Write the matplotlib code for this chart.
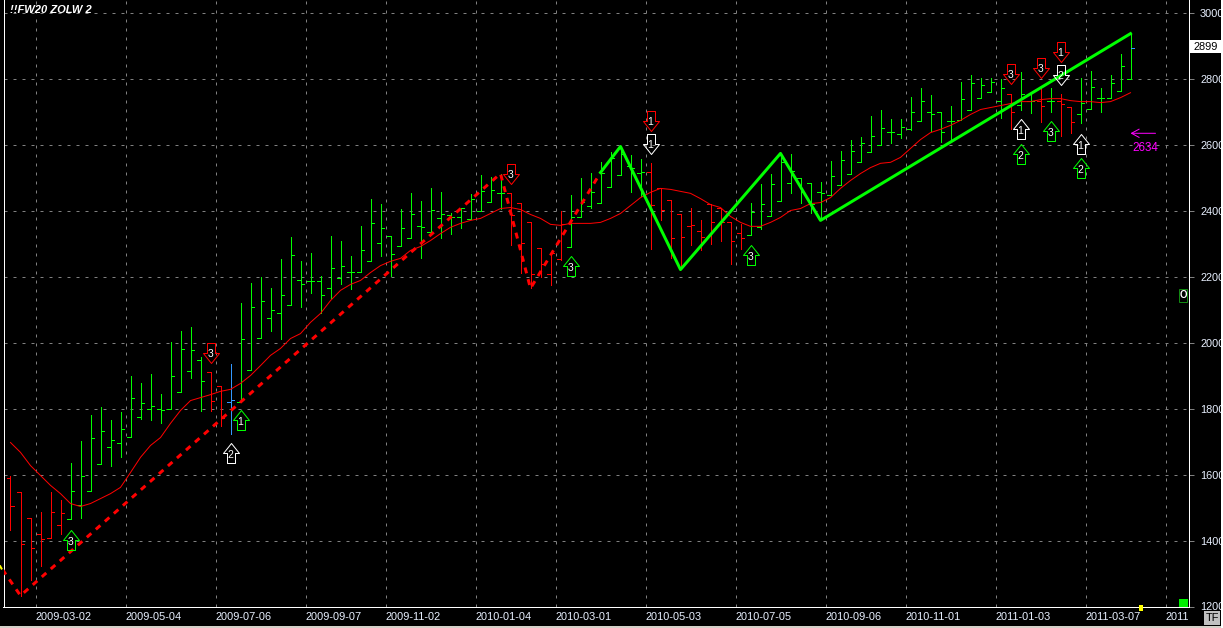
#!/usr/bin/env python3
import matplotlib

matplotlib.use("Agg")
import matplotlib.pyplot as plt
from matplotlib.patches import Rectangle
from matplotlib.path import Path

W, H = 1223, 628

highs = [1594, 1546, 1467, 1485, 1546, 1524, 1636, 1703, 1779, 1806,
         1764, 1788, 1900, 1876, 1906, 1843, 2003, 2036, 2046, 1955,
         1912, 1867, 1936, 2121, 2179, 2197, 2164, 2252, 2321, 2248,
         2270, 2203, 2324, 2309, 2261, 2352, 2436, 2421, 2324, 2406,
         2452, 2430, 2467, 2455, 2391, 2409, 2449, 2509, 2503, 2512,
         2452, 2424, 2364, 2285, 2273, 2400, 2446, 2497, 2515, 2548,
         2576, 2591, 2567, 2555, 2543, 2467, 2433, 2388, 2409, 2370,
         2421, 2409, 2364, 2358, 2424, 2479, 2512, 2573, 2570, 2500,
         2482, 2485, 2549, 2579, 2615, 2624, 2685, 2706, 2676, 2676,
         2745, 2770, 2749, 2697, 2718, 2788, 2812, 2803, 2803, 2800,
         2752, 2821, 2752, 2773, 2770, 2752, 2715, 2803, 2824, 2770,
         2812, 2873, 2936]
lows = [1433, 1233, 1279, 1324, 1409, 1421, 1464, 1467, 1549, 1633,
        1627, 1652, 1715, 1767, 1764, 1755, 1800, 1849, 1891, 1791,
        1791, 1746, 1724, 1821, 1918, 2015, 2036, 2012, 2115, 2109,
        2149, 2088, 2136, 2176, 2161, 2215, 2246, 2261, 2203, 2291,
        2318, 2255, 2330, 2318, 2330, 2346, 2373, 2397, 2427, 2406,
        2294, 2212, 2164, 2197, 2173, 2249, 2288, 2379, 2409, 2424,
        2470, 2509, 2455, 2443, 2282, 2370, 2255, 2224, 2294, 2279,
        2300, 2309, 2239, 2282, 2327, 2343, 2382, 2430, 2452, 2424,
        2391, 2370, 2446, 2476, 2512, 2546, 2576, 2600, 2606, 2621,
        2643, 2670, 2640, 2609, 2609, 2673, 2706, 2742, 2758, 2679,
        2648, 2706, 2694, 2667, 2700, 2627, 2636, 2664, 2709, 2700,
        2742, 2761, 2800]
opens = [1588, 1546, 1467, 1421, 1409, 1448, 1464, 1509, 1549, 1633,
         1682, 1694, 1715, 1773, 1797, 1800, 1800, 1849, 1915, 1946,
         1912, 1867, 1821, 1821, 1918, 2015, 2073, 2088, 2115, 2188,
         2185, 2185, 2164, 2194, 2215, 2215, 2246, 2303, 2324, 2291,
         2318, 2352, 2336, 2376, 2385, 2379, 2373, 2397, 2427, 2452,
         2452, 2424, 2364, 2285, 2209, 2252, 2288, 2379, 2415, 2424,
         2470, 2509, 2536, 2515, 2518, 2467, 2433, 2388, 2352, 2339,
         2421, 2409, 2364, 2333, 2327, 2349, 2382, 2430, 2482, 2497,
         2482, 2455, 2446, 2476, 2512, 2546, 2576, 2600, 2639, 2633,
         2646, 2670, 2700, 2697, 2670, 2673, 2706, 2742, 2758, 2733,
         2752, 2721, 2733, 2733, 2733, 2733, 2715, 2691, 2709, 2742,
         2742, 2761, 2800]
closes = [1506, 1388, 1376, 1406, 1485, 1482, 1549, 1594, 1712, 1733,
          1706, 1739, 1833, 1818, 1809, 1794, 1900, 1979, 1976, 1882,
          1824, 1770, 1827, 2012, 2109, 2127, 2100, 2143, 2264, 2176,
          2185, 2143, 2227, 2233, 2215, 2279, 2361, 2346, 2267, 2346,
          2388, 2349, 2403, 2388, 2379, 2409, 2436, 2458, 2461, 2452,
          2385, 2303, 2209, 2239, 2270, 2358, 2379, 2427, 2455, 2515,
          2558, 2570, 2530, 2518, 2418, 2403, 2318, 2321, 2355, 2321,
          2364, 2364, 2309, 2318, 2394, 2421, 2479, 2548, 2521, 2455,
          2421, 2452, 2506, 2552, 2579, 2606, 2627, 2649, 2639, 2652,
          2700, 2733, 2691, 2639, 2670, 2739, 2785, 2779, 2788, 2770,
          2700, 2752, 2733, 2718, 2733, 2724, 2667, 2727, 2773, 2742,
          2785, 2839, 2893]
red_bars = [0, 1, 2, 3, 4, 5, 20, 21, 50, 51, 52, 53, 54, 55,
            64, 65, 66, 67, 68, 69, 70, 71, 72, 73, 100, 103, 105, 106]
blue_bars = [22]

ma_values = [1697, 1667, 1627, 1597, 1567, 1542, 1512, 1503, 1512, 1527,
             1542, 1561, 1606, 1652, 1688, 1712, 1755, 1794, 1824, 1833,
             1842, 1852, 1858, 1876, 1900, 1930, 1961, 1982, 2012, 2027,
             2061, 2088, 2127, 2158, 2176, 2188, 2212, 2233, 2246, 2255,
             2279, 2291, 2309, 2330, 2349, 2361, 2370, 2376, 2391, 2406,
             2409, 2403, 2388, 2376, 2358, 2355, 2361, 2361, 2361, 2364,
             2376, 2391, 2415, 2439, 2455, 2467, 2464, 2458, 2452, 2436,
             2418, 2409, 2382, 2364, 2352, 2352, 2364, 2379, 2400, 2406,
             2421, 2424, 2439, 2467, 2491, 2512, 2530, 2543, 2546, 2561,
             2588, 2615, 2636, 2646, 2658, 2673, 2691, 2706, 2712, 2718,
             2724, 2730, 2730, 2736, 2739, 2739, 2733, 2730, 2730, 2727,
             2730, 2742, 2757]

red_wave_x = [-0.8, 1, 49, 52, 59]
red_wave_y = [1312, 1233, 2512, 2164, 2515]
green_wave_x = [59, 61, 67, 77, 81, 112]
green_wave_y = [2515, 2594, 2221, 2573, 2370, 2936]

# bar, price at the tip, label, colour
up_arrows = [(6, 1433, "3", "#00ff00"), (23, 1794, "1", "#00ff00"), (22, 1694, "2", "white"),
             (56, 2261, "3", "#00ff00"), (74, 2294, "3", "#00ff00"), (101, 2676, "1", "white"),
             (101, 2603, "2", "#00ff00"), (104, 2670, "3", "#00ff00"), (107, 2633, "1", "white"),
             (107, 2560, "2", "#00ff00")]
down_arrows = [(20, 1939, "3", "#ff0000"), (50, 2479, "3", "#ff0000"), (64, 2640, "1", "#ff0000"),
               (64, 2570, "1", "white"), (100, 2782, "3", "#ff0000"), (103, 2803, "3", "#ff0000"),
               (105, 2851, "1", "#ff0000"), (105, 2779, "2", "white")]

date_ticks = [2.5, 11.5, 20.5, 29.5, 37.5, 46.5, 54.5, 63.5, 72.5, 81.5, 89.5, 98.5, 107.5, 115.5]
date_labels = ["2009-03-02", "2009-05-04", "2009-07-06", "2009-09-07", "2009-11-02",
               "2010-01-04", "2010-03-01", "2010-05-03", "2010-07-05", "2010-09-06",
               "2010-11-01", "2011-01-03", "2011-03-07", "2011"]
price_ticks = [1200, 1400, 1600, 1800, 2000, 2200, 2400, 2600, 2800, 3000]

PX = 0.72  # one pixel in points at dpi 100
LABEL = "#e8f0ff"
GRID = "#808080"

up_path = Path([(0, 0), (-8, -10), (-4, -10), (-4, -20), (4, -20), (4, -10), (8, -10), (0, 0)], closed=True)
down_path = Path([(0, 0), (-8, 10), (-4, 10), (-4, 20), (4, 20), (4, 10), (8, 10), (0, 0)], closed=True)


def fig_box(fig, x0, y0, x1, y1, **kwargs):
    # rectangle given in image pixels, y from the top
    rect = Rectangle((x0 / W, 1 - y1 / H), (x1 - x0) / W, (y1 - y0) / H,
                     transform=fig.transFigure, **kwargs)
    fig.add_artist(rect)


def draw_bars(ax):
    for i in range(len(highs)):
        if i in blue_bars:
            color = "#3399ff"
        elif i in red_bars:
            color = "#ff0000"
        else:
            color = "#00ff00"
        ax.plot([i, i], [lows[i], highs[i]], color=color, linewidth=PX, zorder=3)
        ax.plot([i - 0.35, i], [opens[i], opens[i]], color=color, linewidth=PX, zorder=3)
        ax.plot([i, i + 0.35], [closes[i], closes[i]], color=color, linewidth=PX, zorder=3)
    # last close tick is blue
    last = len(highs) - 1
    ax.plot([last, last + 0.35], [closes[last], closes[last]], color="#3399ff", linewidth=PX, zorder=3)


def draw_arrows(ax):
    for path, arrows, offset in ((up_path, up_arrows, -12), (down_path, down_arrows, 9)):
        for bar, price, label, color in arrows:
            ax.plot([bar], [price], marker=path, markersize=40 * PX, markerfacecolor="none",
                    markeredgecolor=color, markeredgewidth=PX, zorder=6)
            ax.annotate(label, (bar, price), xytext=(0, offset * PX), textcoords="offset points",
                        ha="center", va="center", color="white", fontsize=7.5, zorder=7)


def main():
    plt.rcParams["font.family"] = ["Liberation Sans", "DejaVu Sans"]
    fig = plt.figure(figsize=(W / 100, H / 100), dpi=100, facecolor="black")
    ax = fig.add_axes([3.5 / W, (H - 606.5) / H, 1185 / W, 606.5 / H], facecolor="black")
    ax.set_xlim(-0.7, 117.8)
    ax.set_ylim(1200, 3037.9)

    ax.grid(True, color=GRID, linewidth=PX, linestyle=(0, (3, 6)), zorder=1)
    ax.set_axisbelow(True)
    ax.set_xticks(date_ticks)
    ax.set_xticklabels(date_labels, ha="left")
    ax.set_yticks(price_ticks)
    ax.yaxis.tick_right()
    ax.tick_params(axis="x", length=0, pad=4, labelsize=7.9, labelcolor=LABEL)
    ax.tick_params(axis="y", length=5 * PX, width=PX, color=GRID, pad=4.7, labelsize=7.9, labelcolor=LABEL)
    for label in ax.get_yticklabels():
        label.set_horizontalalignment("left")
    for side, spine in ax.spines.items():
        spine.set_visible(side != "top")
        spine.set_color("white")
        spine.set_linewidth(PX)

    draw_bars(ax)
    ax.plot(range(len(ma_values)), ma_values, color="#ff0000", linewidth=PX, zorder=4)
    ax.plot(red_wave_x, red_wave_y, color="#ff0000", linewidth=3 * PX, linestyle=(0, (2, 2)), zorder=5)
    ax.plot(green_wave_x, green_wave_y, color="#00ff00", linewidth=3 * PX, zorder=5)
    ax.plot([-1.03, -0.9], [1322, 1315], color="#ffff00", linewidth=2 * PX, clip_on=False, zorder=5)
    draw_arrows(ax)

    ax.annotate("", xy=(112, 2634), xytext=(114.5, 2634), zorder=6,
                arrowprops=dict(arrowstyle="->,head_length=0.55,head_width=0.3", color="#ff00ff",
                                linewidth=PX, shrinkA=0, shrinkB=0))
    ax.text(112.2, 2590, "2634", color="#ff00ff", fontsize=8.4, ha="left", va="center", zorder=6)

    fig.text(10 / W, 1 - 10 / H, "!!FW20 ZOLW 2", color="white", fontsize=8, fontweight="bold",
             fontstyle="italic", ha="left", va="center", zorder=8)

    # price flag, cursor box, status squares, button and window edge
    fig_box(fig, 1190, 40, 1221, 53, facecolor="white", edgecolor="none", zorder=6)
    fig.text(1205.5 / W, 1 - 47 / H, "2899", color="black", fontsize=7.9, ha="center", va="center", zorder=7)
    fig_box(fig, 1179, 289, 1187, 302, facecolor="black", edgecolor="#118811", linewidth=PX, zorder=6)
    fig.text(1183 / W, 1 - 295.5 / H, "O", color="white", fontsize=7, ha="center", va="center",
             fontweight="bold", zorder=7)
    fig_box(fig, 1139, 605, 1143, 611, facecolor="#ffff00", edgecolor="none", zorder=6)
    fig_box(fig, 1179, 599, 1188, 607, facecolor="#00f000", edgecolor="none", zorder=6)
    fig_box(fig, 1204, 611, 1220, 625, facecolor="#c0c0c0", edgecolor="none", zorder=6)
    fig.text(1212 / W, 1 - 618 / H, "TF", color="black", fontsize=7.9, ha="center", va="center", zorder=7)
    fig_box(fig, 0, 626, W, H, facecolor="#d4d0c8", edgecolor="none", zorder=6)
    fig_box(fig, 1221, 0, W, H, facecolor="white", edgecolor="none", zorder=6)

    fig.savefig("out.png", dpi=100, facecolor="black")


if __name__ == "__main__":
    main()
